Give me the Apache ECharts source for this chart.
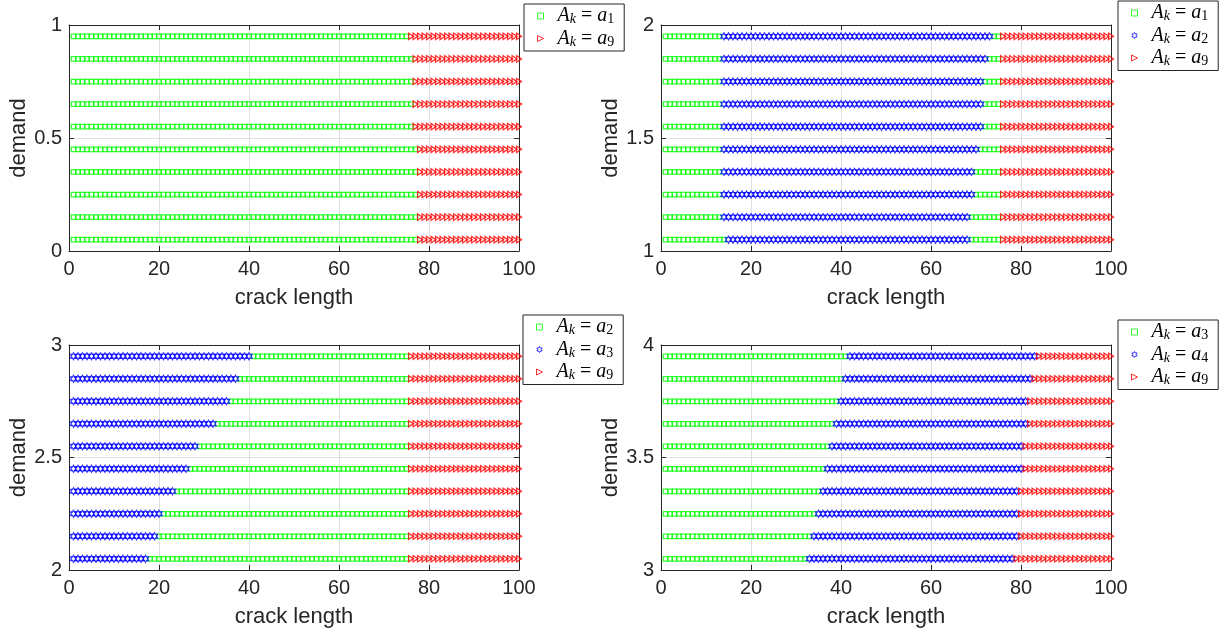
<!DOCTYPE html>
<html>
<head>
<meta charset="utf-8">
<script src="https://cdn.jsdelivr.net/npm/echarts@6/dist/echarts.min.js"></script>
<style>
html, body { margin: 0; padding: 0; background: #fff; }
#chart { width: 1231px; height: 635px; }
</style>
</head>
<body>
<div id="chart"></div>
<script>
// crack length samples (x positions of the markers)
var crackLength = [1,2,3,4,5,6,7,8,9,10,11,12,13,14,15,16,17,18,19,20,
	21,22,23,24,25,26,27,28,29,30,31,32,33,34,35,36,37,38,39,40,
	41,42,43,44,45,46,47,48,49,50,51,52,53,54,55,56,57,58,59,60,
	61,62,63,64,65,66,67,68,69,70,71,72,73,74,75,76,77,78,79,80,
	81,82,83,84,85,86,87,88,89,90,91,92,93,94,95,96,97,98,99,100];

// demand rows of each panel (bottom to top)
var demandA = [0.05, 0.15, 0.25, 0.35, 0.45, 0.55, 0.65, 0.75, 0.85, 0.95];
var demandB = [1.05, 1.15, 1.25, 1.35, 1.45, 1.55, 1.65, 1.75, 1.85, 1.95];
var demandC = [2.05, 2.15, 2.25, 2.35, 2.45, 2.55, 2.65, 2.75, 2.85, 2.95];
var demandD = [3.05, 3.15, 3.25, 3.35, 3.45, 3.55, 3.65, 3.75, 3.85, 3.95];

// last crack length of each action, per demand row
var endA_a1 = [77, 77, 77, 77, 77, 76, 76, 76, 76, 75];

var endB_a1 = [14, 13, 13, 13, 13, 13, 13, 13, 13, 13];
var endB_a2 = [68, 68, 69, 69, 70, 71, 71, 71, 72, 73];
var endB_a1b = [75, 75, 75, 75, 75, 75, 75, 75, 75, 75];

var endC_a3 = [17, 19, 20, 23, 26, 28, 32, 35, 37, 40];
var endC_a2 = [75, 75, 75, 75, 75, 75, 75, 75, 75, 75];

var endD_a3 = [32, 33, 34, 35, 36, 37, 38, 39, 40, 41];
var endD_a4 = [78, 79, 79, 79, 80, 80, 81, 81, 82, 83];

var yTicksA = [0, 1], yTicksB = [1, 2], yTicksC = [2, 3], yTicksD = [3, 4];

var SQUARE = 'path://M0,0 L10,0 L10,10 L0,10 Z';
var TRIANGLE = 'path://M0,0 L10,5 L0,10 Z';
var HEXAGRAM = 'path://M0,-10 L2.887,-5 L8.66,-5 L5.774,0 L8.66,5 L2.887,5 L0,10 L-2.887,5 L-8.66,5 L-5.774,0 L-8.66,-5 L-2.887,-5 Z';

var marks = {
	green: { symbol: SQUARE, size: [4.5, 4.5], color: '#00ff00' },
	blue: { symbol: HEXAGRAM, size: [6.2, 7], color: '#0000ff' },
	red: { symbol: TRIANGLE, size: [5, 6.4], color: '#ff0000' }
};

// split every row into the actions given by the end arrays
function splitRows(rows, ends, keys) {
	var out = {};
	keys.forEach(function (k) { out[k] = []; });
	rows.forEach(function (d, r) {
		crackLength.forEach(function (x) {
			var s = 0;
			while (s < ends.length && x > ends[s][r]) s++;
			out[keys[s]].push([x, d]);
		});
	});
	return out;
}

var panels = [
	{ rows: demandA, ticks: yTicksA, ends: [endA_a1], keys: ['a1', 'a9'],
		look: { a1: 'green', a9: 'red' } },
	{ rows: demandB, ticks: yTicksB, ends: [endB_a1, endB_a2, endB_a1b], keys: ['a1', 'a2', 'a1', 'a9'],
		look: { a1: 'green', a2: 'blue', a9: 'red' } },
	{ rows: demandC, ticks: yTicksC, ends: [endC_a3, endC_a2], keys: ['a3', 'a2', 'a9'],
		look: { a2: 'green', a3: 'blue', a9: 'red' } },
	{ rows: demandD, ticks: yTicksD, ends: [endD_a3, endD_a4], keys: ['a3', 'a4', 'a9'],
		look: { a3: 'green', a4: 'blue', a9: 'red' } }
];
var legendOrder = [['a1', 'a9'], ['a1', 'a2', 'a9'], ['a2', 'a3', 'a9'], ['a3', 'a4', 'a9']];

var grids = [
	{ left: 69, top: 25, width: 450, height: 226 },
	{ left: 661, top: 25, width: 450, height: 226 },
	{ left: 69, top: 345, width: 450, height: 225 },
	{ left: 661, top: 345, width: 450, height: 225 }
];
var legendPos = [
	{ left: 524, top: 4 },
	{ left: 1118, top: 1 },
	{ left: 523, top: 315 },
	{ left: 1118, top: 320 }
];

var axisColor = '#262626';
var labelFont = 'Liberation Sans';

var xAxes = [], yAxes = [], series = [], legends = [];

grids.forEach(function (g, i) {
	xAxes.push({
		gridIndex: i, type: 'value', min: 0, max: 100, interval: 20,
		name: 'crack length', nameLocation: 'middle', nameGap: 36,
		nameTextStyle: { fontFamily: labelFont, fontSize: 22, color: axisColor },
		axisLine: { onZero: false, lineStyle: { color: axisColor } },
		axisTick: { inside: true, length: 5, lineStyle: { color: axisColor } },
		axisLabel: { fontFamily: labelFont, fontSize: 20, color: axisColor, margin: 8 },
		splitLine: { show: true, lineStyle: { color: '#dfdfdf' } }
	});
	var t = panels[i].ticks;
	yAxes.push({
		gridIndex: i, type: 'value', min: t[0], max: t[1], interval: 0.5,
		name: 'demand', nameLocation: 'middle', nameGap: 36, nameRotate: 90,
		nameTextStyle: { fontFamily: labelFont, fontSize: 22, color: axisColor },
		axisLine: { onZero: false, lineStyle: { color: axisColor } },
		axisTick: { inside: true, length: 5, lineStyle: { color: axisColor } },
		axisLabel: { fontFamily: labelFont, fontSize: 20, color: axisColor, margin: 7 },
		splitLine: { show: true, lineStyle: { color: '#dfdfdf' } }
	});
});
// box axes on top and right
grids.forEach(function (g, i) {
	var t = panels[i].ticks;
	xAxes.push({
		gridIndex: i, type: 'value', position: 'top', min: 0, max: 100, interval: 20,
		axisLine: { onZero: false, lineStyle: { color: axisColor } },
		axisTick: { inside: true, length: 5, lineStyle: { color: axisColor } },
		axisLabel: { show: false }, splitLine: { show: false }
	});
	yAxes.push({
		gridIndex: i, type: 'value', position: 'right', min: t[0], max: t[1], interval: 0.5,
		axisLine: { onZero: false, lineStyle: { color: axisColor } },
		axisTick: { inside: true, length: 5, lineStyle: { color: axisColor } },
		axisLabel: { show: false }, splitLine: { show: false }
	});
});

panels.forEach(function (p, i) {
	var parts = splitRows(p.rows, p.ends, p.keys);
	var names = [];
	legendOrder[i].forEach(function (k) {
		var m = marks[p.look[k]];
		var name = 'p' + i + '_' + k;
		names.push(name);
		series.push({
			name: name, type: 'scatter', xAxisIndex: i, yAxisIndex: i,
			symbol: m.symbol, symbolSize: m.size,
			itemStyle: { color: 'rgba(255,255,255,0)', borderColor: m.color, borderWidth: 1.25 },
			data: parts[k], silent: true
		});
	});
	legends.push({
		data: names, orient: 'vertical', left: legendPos[i].left, top: legendPos[i].top,
		padding: [2, 10, 2, 13], itemGap: 2, itemWidth: 24, itemHeight: 6,
		symbolKeepAspect: true, selectedMode: false,
		itemStyle: { borderWidth: 1 },
		borderColor: axisColor, borderWidth: 1, backgroundColor: '#fff',
		formatter: function (name) {
			var sub = name.split('_a')[1];
			return '{it|A}{sub|k}{eq|=}{it|a}{num|' + sub + '}';
		},
		textStyle: {
			rich: {
				it: { fontFamily: 'Liberation Serif', fontStyle: 'italic', fontSize: 20, lineHeight: 21, color: '#000' },
				sub: { fontFamily: 'Liberation Serif', fontStyle: 'italic', fontSize: 14, lineHeight: 13, verticalAlign: 'bottom', color: '#000' },
				eq: { fontFamily: 'Liberation Serif', fontSize: 20, lineHeight: 21, padding: [0, 5, 0, 5], color: '#000' },
				num: { fontFamily: 'Liberation Serif', fontSize: 14, lineHeight: 13, verticalAlign: 'bottom', color: '#000' }
			}
		}
	});
});

var chart = echarts.init(document.getElementById('chart'));
chart.setOption({
	animation: false,
	backgroundColor: '#fff',
	grid: grids,
	xAxis: xAxes,
	yAxis: yAxes,
	legend: legends,
	series: series
});
</script>
</body>
</html>
